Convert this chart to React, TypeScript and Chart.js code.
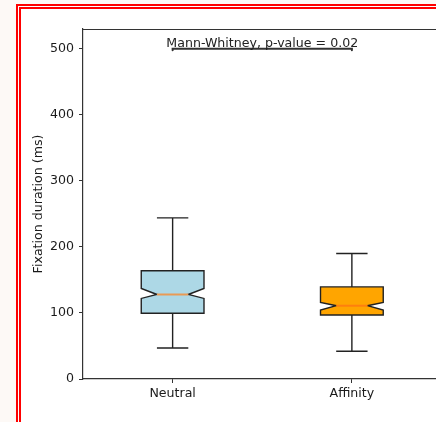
import React, { useEffect, useRef } from "react";
import { Chart, registerables } from "chart.js";

Chart.register(...registerables);

const categories = ["Neutral", "Affinity"];
const whiskerLow = [47, 42];
const q1 = [99.5, 97];
const median = [128, 111];
const q3 = [164, 139.5];
const whiskerHigh = [244, 190];
const notchLow = [122, 104.5];
const notchHigh = [137, 116];
const boxColors = ["#add8e6", "#ffa500"];
const yTicks = [0, 100, 200, 300, 400, 500];
const yMin = 0;
const yMax = 530;
const annotationText = "Mann-Whitney, p-value = 0.02";
const annotationY = 500;

const FONT = "'DejaVu Sans', sans-serif";
const FS = 12.6;

const boxPlugin = {
  id: "boxes",
  afterDatasetsDraw(chart: any) {
    const ctx = chart.ctx;
    const x = chart.scales.x;
    const y = chart.scales.y;
    const area = chart.chartArea;
    const unit = x.getPixelForValue(1) - x.getPixelForValue(0);
    const half = unit * 0.175;
    const capHalf = half * 0.5;
    const notchDepth = half * 0.5;
    ctx.save();
    ctx.lineJoin = "miter";
    for (let i = 0; i < categories.length; i++) {
      const cx = x.getPixelForValue(i);
      const L = cx - half;
      const R = cx + half;
      const pQ1 = y.getPixelForValue(q1[i]);
      const pQ3 = y.getPixelForValue(q3[i]);
      const pMed = y.getPixelForValue(median[i]);
      const pNL = y.getPixelForValue(notchLow[i]);
      const pNH = y.getPixelForValue(notchHigh[i]);
      const pWL = y.getPixelForValue(whiskerLow[i]);
      const pWH = y.getPixelForValue(whiskerHigh[i]);
      // whiskers
      ctx.strokeStyle = "#222";
      ctx.lineWidth = 1.4;
      ctx.beginPath();
      ctx.moveTo(cx, pQ1);
      ctx.lineTo(cx, pWL);
      ctx.moveTo(cx, pQ3);
      ctx.lineTo(cx, pWH);
      ctx.moveTo(cx - capHalf, pWL);
      ctx.lineTo(cx + capHalf, pWL);
      ctx.moveTo(cx - capHalf, pWH);
      ctx.lineTo(cx + capHalf, pWH);
      ctx.stroke();
      // notched box
      ctx.beginPath();
      ctx.moveTo(L, pQ1);
      ctx.lineTo(R, pQ1);
      ctx.lineTo(R, pNL);
      ctx.lineTo(R - notchDepth, pMed);
      ctx.lineTo(R, pNH);
      ctx.lineTo(R, pQ3);
      ctx.lineTo(L, pQ3);
      ctx.lineTo(L, pNH);
      ctx.lineTo(L + notchDepth, pMed);
      ctx.lineTo(L, pNL);
      ctx.closePath();
      ctx.fillStyle = boxColors[i];
      ctx.fill();
      ctx.strokeStyle = "#222";
      ctx.lineWidth = 1.4;
      ctx.stroke();
      // median
      ctx.strokeStyle = i === 0 ? "#e99a55" : "#ff7f0e";
      ctx.lineWidth = 2;
      ctx.beginPath();
      ctx.moveTo(L + notchDepth, pMed);
      ctx.lineTo(R - notchDepth, pMed);
      ctx.stroke();
    }
    // annotation bracket
    const x0 = x.getPixelForValue(0);
    const x1 = x.getPixelForValue(1);
    const pa = y.getPixelForValue(annotationY);
    ctx.strokeStyle = "#333";
    ctx.lineWidth = 2;
    ctx.lineCap = "round";
    ctx.beginPath();
    ctx.moveTo(x0, pa + 1.5);
    ctx.lineTo(x0, pa);
    ctx.lineTo(x1, pa);
    ctx.lineTo(x1, pa + 1.5);
    ctx.stroke();
    ctx.fillStyle = "#222";
    ctx.font = `${FS}px ${FONT}`;
    ctx.textAlign = "center";
    ctx.textBaseline = "alphabetic";
    ctx.fillText(annotationText, (x0 + x1) / 2, pa - 1.5);
    // top and right spines
    ctx.strokeStyle = "#333";
    ctx.lineWidth = 1;
    ctx.lineCap = "butt";
    ctx.beginPath();
    ctx.moveTo(area.left, area.top + 0.5);
    ctx.lineTo(area.right, area.top + 0.5);
    ctx.moveTo(area.right - 0.5, area.top);
    ctx.lineTo(area.right - 0.5, area.bottom);
    ctx.stroke();
    ctx.restore();
  },
};

export default function App() {
  const ref = useRef<HTMLCanvasElement | null>(null);
  useEffect(() => {
    if (!ref.current) return;
    const chart = new Chart(ref.current, {
      type: "line",
      data: {
        labels: categories,
        datasets: [
          {
            label: "median",
            data: median,
            showLine: false,
            pointRadius: 0,
            pointHoverRadius: 0,
          },
        ],
      },
      options: {
        animation: false,
        responsive: false,
        devicePixelRatio: 1,
        events: [],
        layout: { padding: { left: 0, right: 28.5, top: 29, bottom: 0 } },
        plugins: { legend: { display: false }, tooltip: { enabled: false } },
        scales: {
          x: {
            type: "category",
            offset: true,
            grid: {
              offset: false,
              drawOnChartArea: false,
              drawTicks: true,
              tickLength: 4,
              tickColor: "#333",
            },
            border: { display: true, color: "#333", width: 1.2 },
            ticks: {
              color: "#1a1a1a",
              padding: 3,
              font: { family: FONT, size: FS },
              maxRotation: 0,
            },
            afterFit: (s: any) => {
              s.height = 43;
            },
          },
          y: {
            type: "linear",
            min: yMin,
            max: yMax,
            grid: {
              drawOnChartArea: false,
              drawTicks: true,
              tickLength: 4,
              tickColor: "#333",
            },
            border: { display: true, color: "#333", width: 1.2 },
            ticks: {
              color: "#1a1a1a",
              padding: 5,
              font: { family: FONT, size: FS },
            },
            afterBuildTicks: (s: any) => {
              s.ticks = yTicks.map((v) => ({ value: v }));
            },
            title: {
              display: true,
              text: "Fixation duration (ms)",
              color: "#1a1a1a",
              font: { family: FONT, size: FS },
              padding: { top: 31.4, bottom: 0 },
            },
            afterFit: (s: any) => {
              s.width = 83;
            },
          },
        },
      },
      plugins: [boxPlugin],
    });
    return () => chart.destroy();
  }, []);

  return (
    <div
      style={{
        position: "fixed",
        left: 0,
        top: 0,
        width: 436,
        height: 422,
        overflow: "hidden",
        background: "#fdf9f6",
      }}
    >
      <div
        style={{
          position: "absolute",
          left: 16,
          top: 4,
          width: 600,
          height: 600,
          border: "5px double #f00",
          background: "#fff",
        }}
      />
      <canvas
        ref={ref}
        width={470}
        height={422}
        style={{ position: "absolute", left: 0, top: 0, width: 470, height: 422 }}
      />
    </div>
  );
}
